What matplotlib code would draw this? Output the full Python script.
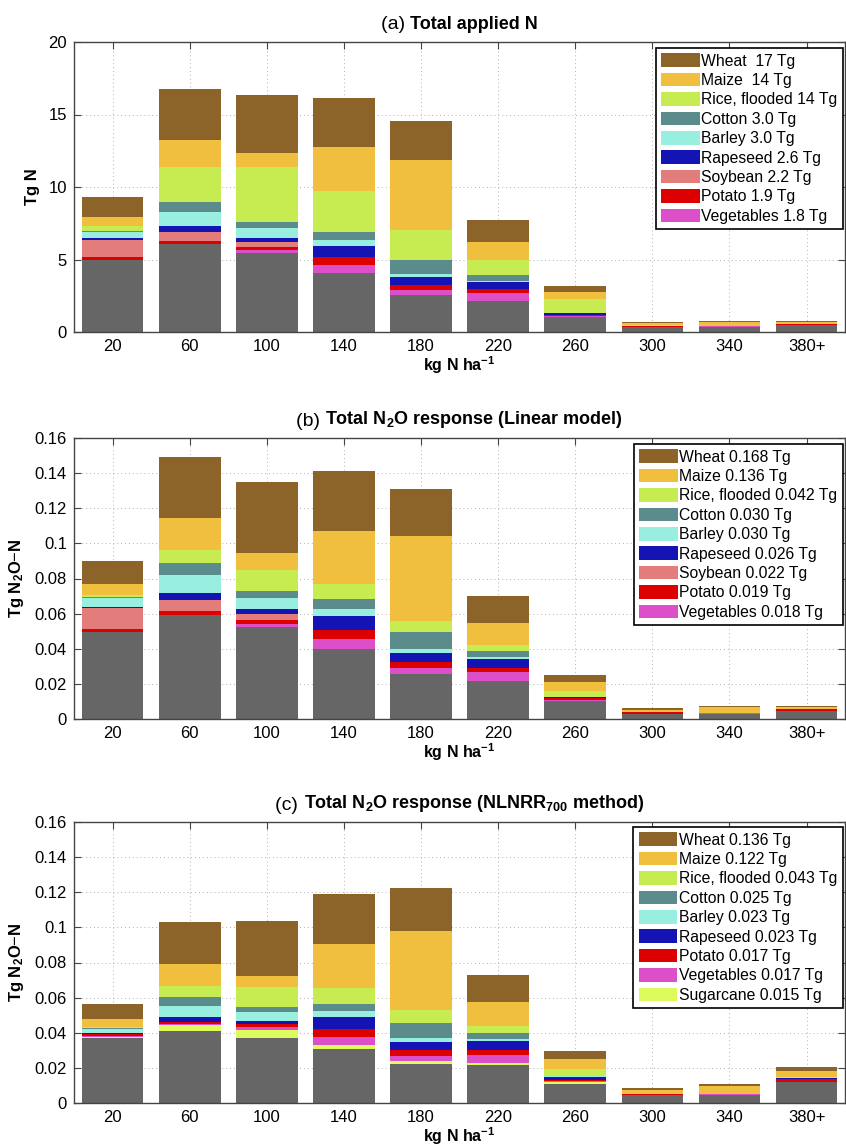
import numpy as np
import matplotlib
matplotlib.use("Agg")
import matplotlib.pyplot as plt
from matplotlib.ticker import FormatStrFormatter, MultipleLocator

plt.rcParams['font.family'] = ['Liberation Sans', 'DejaVu Sans']
plt.rcParams['mathtext.fontset'] = 'custom'
plt.rcParams['mathtext.rm'] = 'Liberation Sans'
plt.rcParams['mathtext.bf'] = 'Liberation Sans:bold'
plt.rcParams['mathtext.it'] = 'Liberation Sans:italic'

# application-rate bins (kg N ha-1)
bins = ['20', '60', '100', '140', '180', '220', '260', '300', '340', '380+']

# crop colours
colors = {
    'Other': '#666666',
    'Wheat': '#8c6329',
    'Maize': '#efbf3d',
    'Rice': '#c6ec52',
    'Cotton': '#5b8c8b',
    'Barley': '#98efe0',
    'Rapeseed': '#1414b4',
    'Soybean': '#e27d7c',
    'Potato': '#dc0000',
    'Vegetables': '#dc4fc8',
    'Sugarcane': '#ddfb5c',
}

# ---- (a) total applied N, Tg N per bin and crop ----
a_other      = [5.00, 6.04, 5.45, 4.07, 2.57, 2.16, 1.03, 0.35, 0.35, 0.50]
a_vegetables = [0.00, 0.03, 0.18, 0.55, 0.35, 0.50, 0.04, 0.00, 0.04, 0.00]
a_potato     = [0.17, 0.19, 0.23, 0.55, 0.32, 0.28, 0.12, 0.05, 0.00, 0.05]
a_soybean    = [1.15, 0.67, 0.35, 0.00, 0.00, 0.00, 0.00, 0.00, 0.00, 0.00]
a_rapeseed   = [0.14, 0.38, 0.25, 0.78, 0.55, 0.48, 0.14, 0.00, 0.00, 0.00]
a_barley     = [0.44, 1.00, 0.69, 0.42, 0.23, 0.12, 0.00, 0.00, 0.00, 0.00]
a_cotton     = [0.09, 0.69, 0.41, 0.53, 0.95, 0.36, 0.00, 0.00, 0.00, 0.00]
a_rice       = [0.29, 2.41, 3.84, 2.80, 2.09, 1.04, 0.97, 0.05, 0.00, 0.02]
a_maize      = [0.62, 1.83, 0.92, 3.06, 4.82, 1.26, 0.46, 0.17, 0.28, 0.12]
a_wheat      = [1.38, 3.49, 4.05, 3.39, 2.69, 1.54, 0.43, 0.09, 0.06, 0.10]

# ---- (b) N2O response, linear model (Tg N2O-N) ----
b_other      = [0.0495, 0.0592, 0.0524, 0.0399, 0.0254, 0.0216, 0.0103, 0.0030, 0.0030, 0.0046]
b_vegetables = [0.0000, 0.0003, 0.0017, 0.0054, 0.0036, 0.0049, 0.0007, 0.0000, 0.0006, 0.0000]
b_potato     = [0.0019, 0.0020, 0.0023, 0.0056, 0.0032, 0.0027, 0.0007, 0.0012, 0.0000, 0.0011]
b_soybean    = [0.0116, 0.0064, 0.0034, 0.0000, 0.0000, 0.0000, 0.0000, 0.0000, 0.0000, 0.0000]
b_rapeseed   = [0.0010, 0.0038, 0.0026, 0.0078, 0.0054, 0.0051, 0.0010, 0.0000, 0.0000, 0.0000]
b_barley     = [0.0049, 0.0103, 0.0067, 0.0041, 0.0023, 0.0010, 0.0000, 0.0000, 0.0000, 0.0000]
b_cotton     = [0.0006, 0.0066, 0.0040, 0.0053, 0.0094, 0.0034, 0.0000, 0.0000, 0.0000, 0.0000]
b_rice       = [0.0009, 0.0074, 0.0119, 0.0086, 0.0067, 0.0032, 0.0032, 0.0000, 0.0000, 0.0000]
b_maize      = [0.0063, 0.0186, 0.0093, 0.0303, 0.0482, 0.0129, 0.0052, 0.0011, 0.0030, 0.0011]
b_wheat      = [0.0134, 0.0344, 0.0407, 0.0340, 0.0268, 0.0154, 0.0040, 0.0010, 0.0007, 0.0008]

# ---- (c) N2O response, NLNRR700 method (Tg N2O-N) ----
c_other      = [0.0372, 0.0412, 0.0368, 0.0306, 0.0220, 0.0215, 0.0110, 0.0044, 0.0044, 0.0122]
c_sugarcane  = [0.0003, 0.0034, 0.0050, 0.0024, 0.0017, 0.0011, 0.0008, 0.0000, 0.0000, 0.0000]
c_vegetables = [0.0009, 0.0004, 0.0013, 0.0048, 0.0030, 0.0049, 0.0007, 0.0000, 0.0007, 0.0000]
c_potato     = [0.0011, 0.0013, 0.0017, 0.0045, 0.0033, 0.0029, 0.0008, 0.0009, 0.0000, 0.0017]
c_rapeseed   = [0.0005, 0.0025, 0.0021, 0.0065, 0.0047, 0.0051, 0.0015, 0.0000, 0.0000, 0.0004]
c_barley     = [0.0023, 0.0066, 0.0049, 0.0036, 0.0025, 0.0009, 0.0006, 0.0000, 0.0000, 0.0004]
c_cotton     = [0.0006, 0.0048, 0.0028, 0.0038, 0.0086, 0.0033, 0.0000, 0.0000, 0.0000, 0.0000]
c_rice       = [0.0006, 0.0062, 0.0112, 0.0091, 0.0074, 0.0044, 0.0042, 0.0000, 0.0000, 0.0000]
c_maize      = [0.0043, 0.0129, 0.0067, 0.0254, 0.0447, 0.0134, 0.0057, 0.0019, 0.0048, 0.0037]
c_wheat      = [0.0085, 0.0235, 0.0311, 0.0281, 0.0247, 0.0154, 0.0043, 0.0012, 0.0008, 0.0019]

# stacking order is bottom -> top, legend shows top -> bottom
panels = [
    dict(title='Total applied N', tag='(a)', ylabel='Tg N', ymax=20, ystep=5,
         fmt='%g', rect=[74, 42, 846, 332], legend_top=48,
         series=[('Other', a_other, None),
                 ('Vegetables', a_vegetables, 'Vegetables 1.8 Tg'),
                 ('Potato', a_potato, 'Potato 1.9 Tg'),
                 ('Soybean', a_soybean, 'Soybean 2.2 Tg'),
                 ('Rapeseed', a_rapeseed, 'Rapeseed 2.6 Tg'),
                 ('Barley', a_barley, 'Barley 3.0 Tg'),
                 ('Cotton', a_cotton, 'Cotton 3.0 Tg'),
                 ('Rice', a_rice, 'Rice, flooded 14 Tg'),
                 ('Maize', a_maize, 'Maize  14 Tg'),
                 ('Wheat', a_wheat, 'Wheat  17 Tg')]),
    dict(title=r'Total N$_\mathbf{2}$O response (Linear model)', tag='(b)',
         ylabel=r'Tg N$_\mathbf{2}$O$-$N', ymax=0.16, ystep=0.02,
         fmt='%g', rect=[74, 438, 846, 719], legend_top=444,
         series=[('Other', b_other, None),
                 ('Vegetables', b_vegetables, 'Vegetables 0.018 Tg'),
                 ('Potato', b_potato, 'Potato 0.019 Tg'),
                 ('Soybean', b_soybean, 'Soybean 0.022 Tg'),
                 ('Rapeseed', b_rapeseed, 'Rapeseed 0.026 Tg'),
                 ('Barley', b_barley, 'Barley 0.030 Tg'),
                 ('Cotton', b_cotton, 'Cotton 0.030 Tg'),
                 ('Rice', b_rice, 'Rice, flooded 0.042 Tg'),
                 ('Maize', b_maize, 'Maize 0.136 Tg'),
                 ('Wheat', b_wheat, 'Wheat 0.168 Tg')]),
    dict(title=r'Total N$_\mathbf{2}$O response (NLNRR$_\mathbf{700}$ method)', tag='(c)',
         ylabel=r'Tg N$_\mathbf{2}$O$-$N', ymax=0.16, ystep=0.02,
         fmt='%g', rect=[74, 822, 846, 1103], legend_top=827,
         series=[('Other', c_other, None),
                 ('Sugarcane', c_sugarcane, 'Sugarcane 0.015 Tg'),
                 ('Vegetables', c_vegetables, 'Vegetables 0.017 Tg'),
                 ('Potato', c_potato, 'Potato 0.017 Tg'),
                 ('Rapeseed', c_rapeseed, 'Rapeseed 0.023 Tg'),
                 ('Barley', c_barley, 'Barley 0.023 Tg'),
                 ('Cotton', c_cotton, 'Cotton 0.025 Tg'),
                 ('Rice', c_rice, 'Rice, flooded 0.043 Tg'),
                 ('Maize', c_maize, 'Maize 0.122 Tg'),
                 ('Wheat', c_wheat, 'Wheat 0.136 Tg')]),
]

W, H = 846, 1146
fig = plt.figure(figsize=(W / 100, H / 100), dpi=100)
x = np.arange(1, len(bins) + 1)

for p in panels:
    l, t, r, b = p['rect']
    ax = fig.add_axes([l / W, 1 - b / H, (r - l) / W - 0.001, (b - t) / H])
    bottom = np.zeros(len(bins))
    handles, labels = [], []
    for crop, vals, lab in p['series']:
        vals = np.array(vals)
        bars = ax.bar(x, vals, 0.8, bottom=bottom, color=colors[crop],
                      linewidth=0, zorder=2)
        bottom += vals
        if lab:
            handles.append(bars)
            labels.append(lab)

    ax.set_xlim(0.5, len(bins) + 0.5)
    ax.set_ylim(0, p['ymax'])
    ax.yaxis.set_major_locator(MultipleLocator(p['ystep']))
    ax.yaxis.set_major_formatter(FormatStrFormatter(p['fmt']))
    ax.set_xticks(x)
    ax.set_xticklabels(bins)
    ax.tick_params(direction='in', length=5, width=0.8, top=True, right=True,
                   labelsize=12, color='#444444', pad=5)
    for s in ax.spines.values():
        s.set_color('#444444')
        s.set_linewidth(1.0)
    ax.set_axisbelow(True)
    ax.grid(True, linestyle=(0, (1, 3)), color='#b0b0b0', linewidth=0.7, zorder=0)

    ax.set_ylabel(p['ylabel'], fontsize=12, fontweight='bold', labelpad=6)
    ax.set_xlabel(r'kg N ha$^{\mathbf{-1}}$', fontsize=11.5, fontweight='bold',
                  labelpad=0)

    # title: "(x)" in regular weight, rest bold
    tag = ax.text(0.5, 1.03, p['tag'] + ' ', transform=ax.transAxes,
                  fontsize=14, ha='right', va='bottom')
    rest = ax.annotate(p['title'], xy=(1, 0), xycoords=tag, fontsize=13,
                       fontweight='bold', ha='left', va='bottom')
    fig.canvas.draw()
    wt = tag.get_window_extent().width
    wr = rest.get_window_extent().width
    shift = (wt + wr) / 2 - wr
    tag.set_position((0.5 + shift / ax.get_window_extent().width, 1.03))

    ytop = 1 - (p['legend_top'] - t) / (b - t)
    leg = ax.legend(handles[::-1], labels[::-1], loc='upper right',
                    bbox_to_anchor=(0.997, ytop), borderaxespad=0,
                    fontsize=11.3, frameon=True, fancybox=False,
                    handlelength=2.45, handleheight=0.95, handletextpad=0.1,
                    labelspacing=0.27, borderpad=0.35)
    leg.get_frame().set_edgecolor('black')
    leg.get_frame().set_linewidth(1.2)
    leg.get_frame().set_alpha(1)

fig.savefig('out.png', dpi=100)
